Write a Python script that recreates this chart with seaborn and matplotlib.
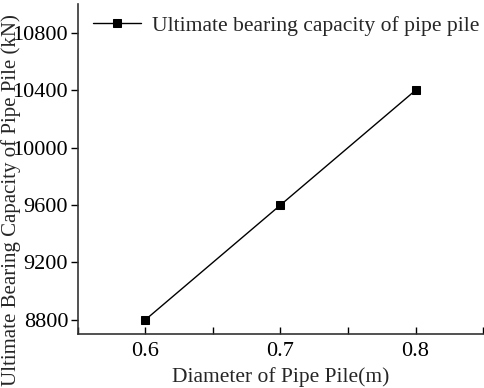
import matplotlib
matplotlib.use("Agg")
import matplotlib.pyplot as plt
import seaborn as sns
import pandas as pd
from matplotlib.ticker import MultipleLocator

sns.set_style("ticks")
plt.rcParams['font.family'] = ['Liberation Serif', 'DejaVu Serif']
plt.rcParams['mathtext.fontset'] = 'stix'

diameter = [0.6, 0.7, 0.8]
capacity = [8800, 9600, 10400]
series_name = 'Ultimate bearing capacity of pipe pile'

df = pd.DataFrame({'diameter': diameter, 'capacity': capacity})

fig = plt.figure(figsize=(4.84, 3.88), dpi=100)
ax = fig.add_axes([0.161, 0.139, 0.837, 0.85])

sns.lineplot(data=df, x='diameter', y='capacity', ax=ax, color='black',
             marker='s', markersize=6, markeredgecolor='black', linewidth=1.0,
             label=series_name)

ax.set_xlim(0.55, 0.85)
ax.set_ylim(8700, 11000)
ax.xaxis.set_major_locator(MultipleLocator(0.1))
ax.xaxis.set_minor_locator(MultipleLocator(0.05))
ax.yaxis.set_major_locator(MultipleLocator(400))
ax.yaxis.set_major_formatter(matplotlib.ticker.FuncFormatter(lambda v, p: f'{int(v)}'))

ax.tick_params(axis='x', which='both', direction='in', length=5, width=1, labelsize=16, colors='black')
ax.tick_params(axis='y', which='both', direction='out', length=5, width=1, labelsize=16, colors='black', pad=2)
ax.xaxis.set_tick_params(pad=6)

sns.despine(ax=ax)
for s in ['left', 'bottom']:
    ax.spines[s].set_linewidth(1.2)
    ax.spines[s].set_color('#333333')

ax.set_xlabel('Diameter of Pipe Pile(m)', fontsize=15.5, labelpad=4)
ax.set_ylabel('Ultimate Bearing Capacity of Pipe Pile (kN)', fontsize=15)
ax.yaxis.set_label_coords(-0.14, 0.405)

ax.legend(loc='upper left', bbox_to_anchor=(-0.01, 1.025), frameon=False,
          fontsize=15.6, handlelength=2.2, handletextpad=0.5)

fig.savefig('out.png', dpi=100)
